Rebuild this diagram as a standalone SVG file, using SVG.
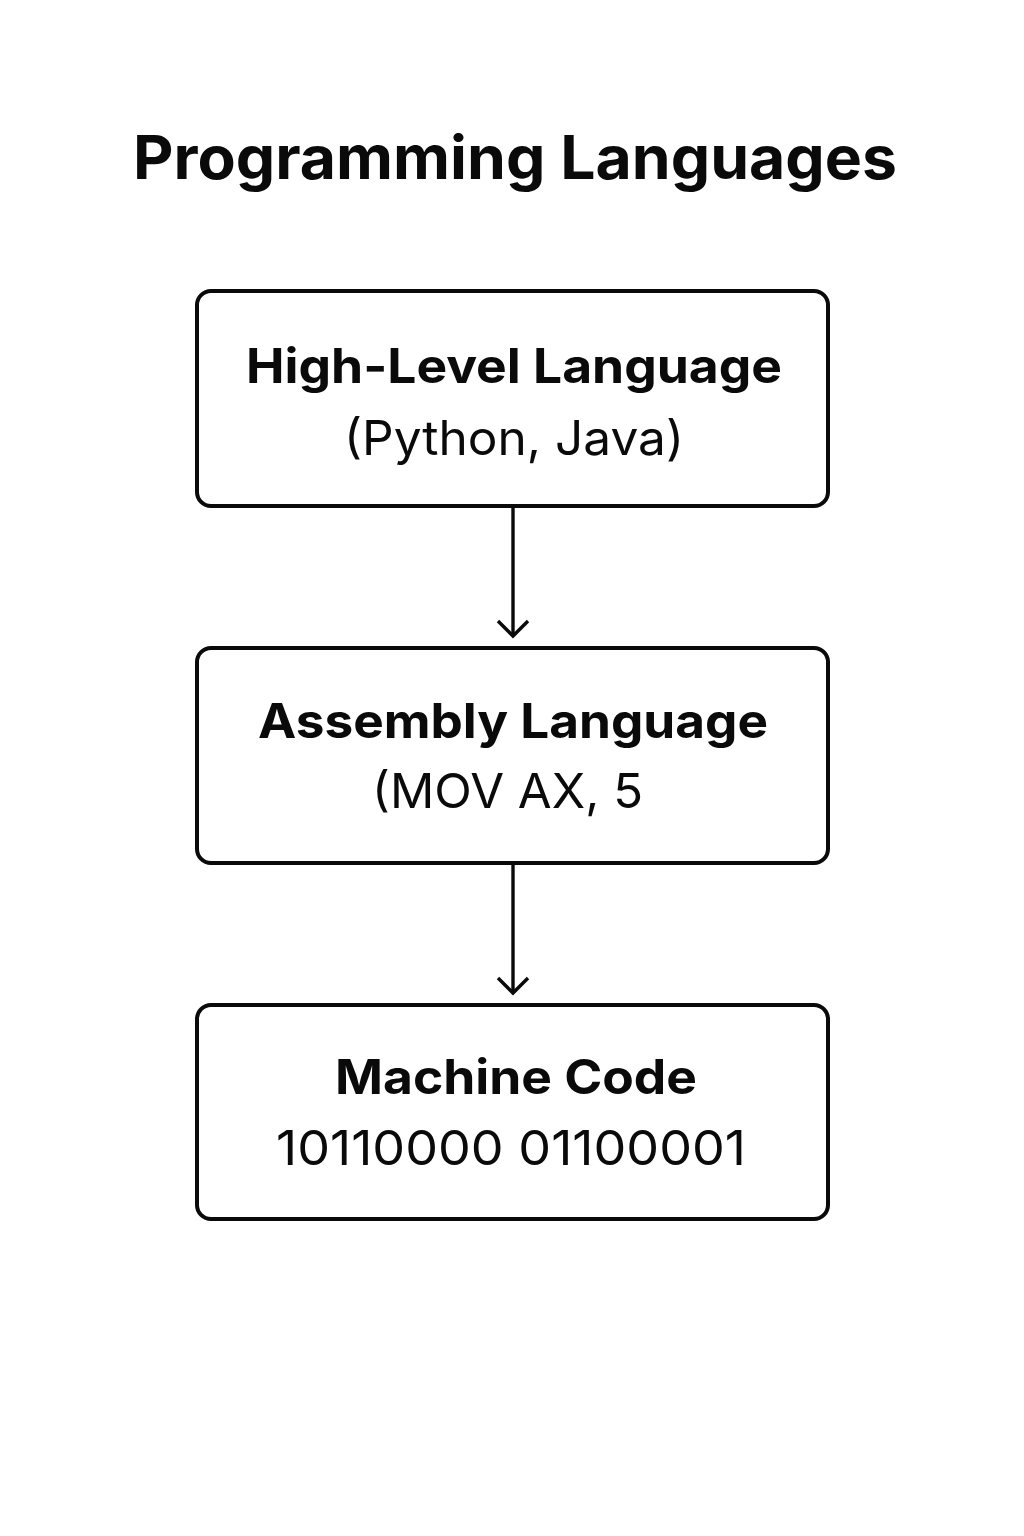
<svg xmlns="http://www.w3.org/2000/svg" width="1024" height="1536" viewBox="0 0 1024 1536">
<style>
.box{fill:#fff;stroke:#0a0a0a;stroke-width:4}
.t{font-family:Inter,"Noto Sans","Liberation Sans",sans-serif;fill:#0a0a0a;text-anchor:middle}
.b{font-weight:700;font-size:48px}
.r{font-weight:400;font-size:48px}
.title{font-weight:700;font-size:60px}
.c{stroke:#0a0a0a;stroke-width:3.4;fill:none}
</style>
<rect width="1024" height="1536" fill="#fff"/>
<text class="t title" x="515" y="179" textLength="764" lengthAdjust="spacingAndGlyphs">Programming Languages</text>
<g id="connectors">
<line class="c" x1="513" y1="507" x2="513" y2="636"/>
<path class="c" d="M498 621 L513 636 L528 621"/>
<line class="c" x1="513" y1="864" x2="513" y2="993"/>
<path class="c" d="M498 978 L513 993 L528 978"/>
</g>
<g id="high-level">
<rect class="box" x="197" y="291" width="631" height="215" rx="14"/>
<text class="t b" x="514" y="383" textLength="536" lengthAdjust="spacingAndGlyphs">High-Level Language</text>
<text class="t r" x="514" y="455" textLength="340" lengthAdjust="spacingAndGlyphs">(Python, Java)</text>
</g>
<g id="assembly">
<rect class="box" x="197" y="648" width="631" height="215" rx="14"/>
<text class="t b" x="513" y="738" textLength="510" lengthAdjust="spacingAndGlyphs">Assembly Language</text>
<text class="t r" x="507.5" y="808" textLength="271" lengthAdjust="spacingAndGlyphs">(MOV AX, 5</text>
</g>
<g id="machine">
<rect class="box" x="197" y="1005" width="631" height="214" rx="14"/>
<text class="t b" x="516" y="1094" textLength="362" lengthAdjust="spacingAndGlyphs">Machine Code</text>
<text class="t r" x="511" y="1165" textLength="470" lengthAdjust="spacingAndGlyphs">10110000 01100001</text>
</g>
</svg>
